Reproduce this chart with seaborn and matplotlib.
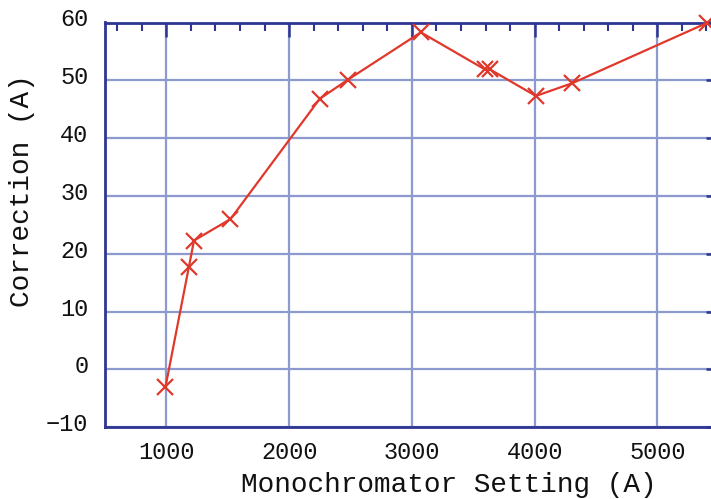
import matplotlib
matplotlib.use("Agg")
import matplotlib.pyplot as plt
import matplotlib.transforms as mtransforms
from matplotlib.ticker import MultipleLocator
import seaborn as sns
import pandas as pd

# Monochromator calibration: wavelength correction vs. setting
setting_A = [992, 1184, 1225, 1522, 2249, 2478, 3073, 3594, 3635, 4010, 4306, 5401]
correction_A = [-3.1, 17.8, 22.3, 26.0, 46.8, 50.1, 58.3, 51.9, 51.9, 47.3, 49.5, 59.9]

x_ticks = [1000, 2000, 3000, 4000, 5000]
y_ticks = [-10, 0, 10, 20, 30, 40, 50, 60]

FRAME = "#2E3592"
GRID = "#8C9AD0"
LINE = "#E0382B"

sns.set_theme(style="white")
plt.rcParams["font.family"] = ["Liberation Mono", "DejaVu Sans Mono"]

df = pd.DataFrame({"setting": setting_A, "correction": correction_A})

fig = plt.figure(figsize=(7.11, 4.99), dpi=100)
# the frame runs a little past the right edge of the canvas
ax = fig.add_axes([105 / 711, 1 - 427.3 / 499, 615 / 711, 404.8 / 499])

ax.set_xlim(500, 5510)
ax.set_ylim(-10, 60)
ax.set_xticks(x_ticks)
ax.set_yticks(y_ticks)
ax.xaxis.set_minor_locator(MultipleLocator(200))
ax.yaxis.set_minor_locator(MultipleLocator(2))

ax.grid(True, which="major", color=GRID, linewidth=1.6, zorder=0)
ax.set_axisbelow(True)

sns.lineplot(data=df, x="setting", y="correction", ax=ax, sort=False,
             color=LINE, linewidth=1.6, marker="x", markersize=11,
             markeredgewidth=1.6, markeredgecolor=LINE, clip_on=False, zorder=3)

for side in ["left", "bottom", "top", "right"]:
    ax.spines[side].set_visible(True)
    ax.spines[side].set_color(FRAME)
    ax.spines[side].set_linewidth(2.0)

ax.tick_params(which="both", direction="in", top=True, right=True,
               color=FRAME, labelcolor="#111111", labelsize=17)
ax.tick_params(which="major", length=10, width=1.8)
ax.tick_params(which="minor", length=6, width=1.5)
ax.tick_params(axis="y", which="major", pad=12)
ax.tick_params(axis="x", which="major", pad=10)

# nudge the y tick labels slightly upward
shift = mtransforms.ScaledTranslation(0, 5 / 100, fig.dpi_scale_trans)
for lab in ax.get_yticklabels():
    lab.set_transform(lab.get_transform() + shift)

ax.set_xlabel("Monochromator Setting (A)", fontsize=20, color="#111111")
ax.set_ylabel("Correction (A)", fontsize=20, color="#111111")
ax.xaxis.set_label_coords((449 - 105) / 615, -0.1425)
ax.xaxis.label.set_va("center")
ax.yaxis.set_label_coords((22 - 105) / 615, 0.584)
ax.yaxis.label.set_va("center")

fig.savefig("out.png", dpi=100)
